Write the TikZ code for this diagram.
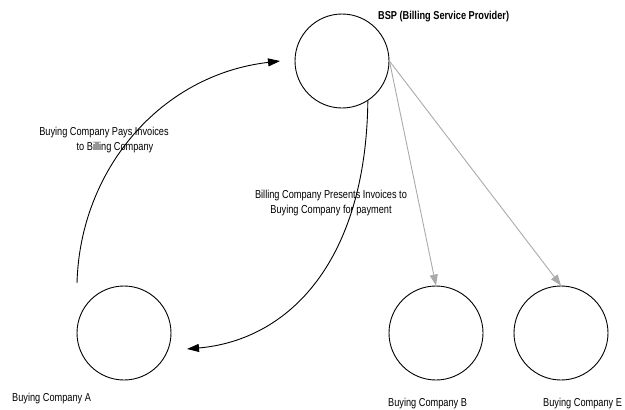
\documentclass[tikz,border=0pt]{standalone}
\usepackage{fontspec}
\setmainfont{Liberation Sans}[FakeStretch=0.8]
\usetikzlibrary{arrows.meta}
\definecolor{linkgray}{RGB}{170,170,170}
\tikzset{
  party/.style={circle, draw=black, line width=0.9pt, minimum size=94pt, inner sep=0pt},
  caption/.style={font=\fontsize{11.5}{13}\selectfont, inner sep=0pt, anchor=west},
  flowlabel/.style={font=\fontsize{11.5}{15.5}\selectfont, inner sep=0pt, align=center},
  flow/.style={draw=black, line width=0.9pt, -{Triangle[length=12pt, width=8pt]}},
  feed/.style={draw=linkgray, line width=0.9pt, -{Triangle[length=11pt, width=8pt]}}
}
\begin{document}
\begin{tikzpicture}[x=1pt, y=-1pt]
\useasboundingbox (0,0) rectangle (625,410);

% parties
\node[party] (bsp) at (342,61) {};
\node[party] (ca) at (124,333) {};
\node[party] (cb) at (436,333) {};
\node[party] (ce) at (561,333) {};

% names
\node[caption, font=\bfseries\fontsize{11.5}{13}\selectfont] (bspname) at (378,17) {BSP (Billing Service Provider)};
\node[caption] (caname) at (12,399) {Buying Company A};
\node[caption] (cbname) at (388,404) {Buying Company B};
\node[caption] (cename) at (543,404) {Buying Company E};

% loose ends of the payment loop
\coordinate (payfrom) at (77,283);
\coordinate (payto) at (280,61);
\coordinate (billto) at (187,349);

% payment loop
\draw[flow] (payfrom) .. controls (80,170) and (160,75) .. (payto);
\draw[flow] (bsp.-57) .. controls (366,260) and (290,340) .. (billto);

% distribution to other buyers
\draw[feed] (bsp.east) -- (cb.north);
\draw[feed] (bsp.east) -- (ce.north);

% loop labels
\node[flowlabel] (paylabel) at (104,140) {Buying Company Pays Invoices\\\hspace*{22pt}to Billing Company};
\node[flowlabel] (billlabel) at (331,203) {Billing Company Presents Invoices to\\Buying Company for payment};
\end{tikzpicture}
\end{document}
